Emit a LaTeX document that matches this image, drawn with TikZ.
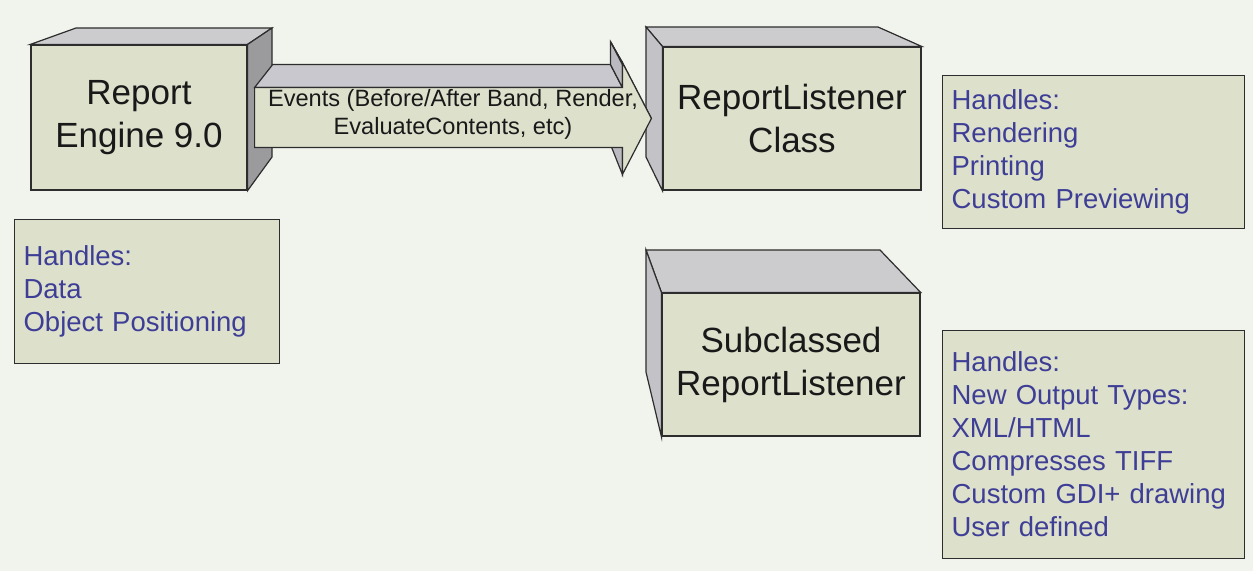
\documentclass[tikz,border=0pt]{standalone}
\usepackage{fontspec}
\setmainfont{Liberation Sans}
\usetikzlibrary{calc}
\definecolor{bgcol}{RGB}{241,243,237}
\definecolor{facecol}{RGB}{221,225,204}
\definecolor{topcol}{RGB}{204,204,207}
\definecolor{darkside}{RGB}{155,155,158}
\definecolor{lightside}{RGB}{194,194,199}
\definecolor{arrowtop}{RGB}{200,200,206}
\definecolor{arrowside}{RGB}{186,186,192}
\definecolor{linecol}{RGB}{45,45,45}
\definecolor{handcol}{RGB}{62,62,150}
\definecolor{bigtext}{RGB}{25,25,25}
\begin{document}
\begin{tikzpicture}[x=1pt,y=-1pt,
  edge/.style={draw=linecol, line width=1.2pt, line join=miter},
  frontbox/.style={edge, fill=facecol, inner sep=0pt, align=center, text=bigtext,
    font=\fontsize{35}{43}\selectfont},
  topface/.style={edge, fill=topcol},
  handlesbox/.style={edge, fill=facecol, anchor=north west, inner xsep=9pt, inner ysep=0pt,
    align=left, text=handcol, font=\fontsize{27.5}{33}\selectfont},
  evtext/.style={inner sep=0pt, align=center, text=bigtext, font=\fontsize{23.6}{28}\selectfont}
]
\useasboundingbox (0,0) rectangle (1253,571);
\fill[bgcol] (0,0) rectangle (1253,571);

% ---- Box 1: Report Engine 9.0
\node[frontbox, minimum width=216pt, minimum height=145pt] (engine) at (139,117.5) {Report\\Engine 9.0};
\draw[topface] (engine.north west) -- (76,28) -- (272,28) -- (engine.north east) -- cycle;
\draw[edge, fill=darkside] (engine.north east) -- (272,28) -- (272,157) -- (engine.south east) -- cycle;

% ---- Box 2: ReportListener Class
\node[frontbox, minimum width=258pt, minimum height=143pt] (listener) at (792,118.5) {ReportListener\\Class};
\draw[topface] (listener.north west) -- (646,27) -- (878,27) -- (listener.north east) -- cycle;
\draw[edge, fill=lightside] (listener.north west) -- (646,27) -- (646,157) -- (listener.south west) -- cycle;

% ---- Box 3: Subclassed ReportListener
\node[frontbox, minimum width=258pt, minimum height=143pt] (subclassed) at (791,364.5) {Subclassed\\ReportListener};
\draw[topface] (subclassed.north west) -- (646,250) -- (880,250) -- (subclassed.north east) -- cycle;
\draw[edge, fill=lightside] (subclassed.north west) -- (646,250) -- (646,372) -- (subclassed.south west) -- cycle;

% ---- 3D arrow from engine to listener
\coordinate (V) at (476,-194);
\coordinate (aL) at ($(engine.east)+(7,0)$);
\coordinate (aT) at ($(listener.west)+(-11,0)$);
\coordinate (f1) at ($(aL)+(0,-30)$);
\coordinate (f2) at ($(aT |- f1)+(-29,0)$);
\coordinate (f3) at ($(aT)+(-29,-56)$);
\coordinate (f5) at ($(aT)+(-29,56)$);
\coordinate (f7) at ($(aL)+(0,30)$);
\coordinate (f6) at ($(aT |- f7)+(-29,0)$);
\coordinate (b1) at ($(f1)!0.0815!(V)$);
\coordinate (b2) at ($(f2)!0.0815!(V)$);
\coordinate (b3) at ($(f3)!0.0815!(V)$);
\coordinate (b4) at ($(aT)!0.0815!(V)$);
\coordinate (b5) at ($(f5)!0.0815!(V)$);
\coordinate (b6) at ($(f6)!0.0815!(V)$);
\draw[edge, fill=arrowside] (f6) -- (b6) -- (b5) -- (f5) -- cycle;
\draw[edge, fill=arrowtop] (f1) -- (b1) -- (b2) -- (f2) -- cycle;
\draw[edge, fill=arrowside] (f2) -- (b2) -- (b3) -- (f3) -- cycle;
\draw[edge, fill=arrowside] (f3) -- (b3) -- (b4) -- (aT) -- cycle;
\draw[edge, fill=facecol] (f1) -- (f2) -- (f3) -- (aT) -- (f5) -- (f6) -- (f7) -- cycle;
\node[evtext] (events) at ($(aL)!0.5!(aT)+(0,-3.5)$) {Events (Before/After Band, Render,\\EvaluateContents, etc)};

% ---- Handles boxes
\node[handlesbox, text width=247pt, minimum height=144pt] (hengine) at (14,219)
  {Handles:\\Data\\Object Positioning};
\node[handlesbox, text width=284pt, minimum height=153pt] (hlistener) at (942,75)
  {Handles:\\Rendering\\Printing\\Custom Previewing};
\node[handlesbox, text width=284pt, minimum height=228pt] (hsub) at (942,330)
  {Handles:\\New Output Types:\\XML/HTML\\Compresses TIFF\\Custom GDI+ drawing\\User defined};
\end{tikzpicture}
\end{document}
